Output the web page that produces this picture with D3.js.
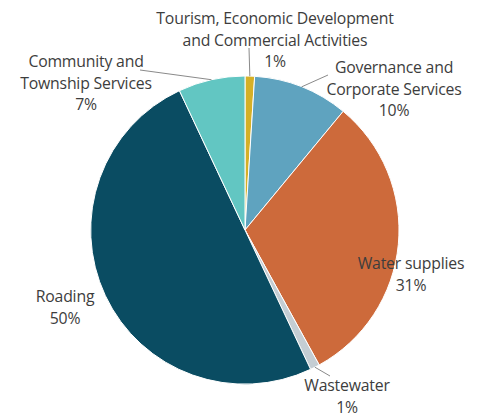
<!DOCTYPE html>
<html>
<head>
<meta charset="utf-8">
<script src="https://cdn.jsdelivr.net/npm/d3@7"></script>
<style>
  body { margin: 0; background: #fff; }
  text { font-family: "Open Sans", sans-serif; font-size: 15.8px; fill: #3d3d3d; letter-spacing: -0.2px; }
</style>
</head>
<body>
<svg id="chart" width="481" height="419"></svg>
<script>
// slices, clockwise from 12 o'clock
const categories = [
    "Tourism, Economic Development and Commercial Activities",
    "Governance and Corporate Services",
    "Water supplies",
    "Wastewater",
    "Roading",
    "Community and Township Services"
];
const shares = [1, 10, 31, 1, 50, 7];
const colours = ["#d6b027", "#5fa3bf", "#cd6a3b", "#c4cdd3", "#0a4c62", "#62c6c2"];
// label text lines as printed on the chart
const labelLines = [
    ["Tourism, Economic Development", "and Commercial Activities", "1%"],
    ["Governance and", "Corporate Services", "10%"],
    ["Water supplies", "31%"],
    ["Wastewater", "1%"],
    ["Roading", "50%"],
    ["Community and", "Township Services", "7%"]
];

const svg = d3.select("#chart");
const cx = 245, cy = 230, r = 154;

// where each label block sits (centre x, first baseline y) and where its leader ends
const labelPos = [
    { x: 275, y: 24, lead: [249, 48] },
    { x: 394, y: 73, lead: [328, 75] },
    { x: 411, y: 269, lead: null },
    { x: 347, y: 391, lead: [330, 376] },
    { x: 65, y: 302, lead: null },
    { x: 86, y: 67, lead: [140, 70] }
];
const lineH = 21.5;

const pie = d3.pie().sort(null).value(d => d);
const arcs = pie(shares);
const arc = d3.arc().innerRadius(0).outerRadius(r);

const g = svg.append("g").attr("transform", `translate(${cx},${cy})`);
g.selectAll("path")
    .data(arcs)
    .join("path")
    .attr("d", arc)
    .attr("fill", (d, i) => colours[i])
    .attr("stroke", "#fff")
    .attr("stroke-width", 1);

// leader lines from the rim at slice middle
arcs.forEach((d, i) => {
    const p = labelPos[i];
    if (!p.lead) return;
    const a = (d.startAngle + d.endAngle) / 2;
    svg.append("line")
        .attr("x1", cx + r * Math.sin(a))
        .attr("y1", cy - r * Math.cos(a))
        .attr("x2", p.lead[0])
        .attr("y2", p.lead[1])
        .style("stroke", "#8a8a8a")
        .attr("stroke-width", 1);
});

labelLines.forEach((lines, i) => {
    const p = labelPos[i];
    const t = svg.append("text")
        .attr("x", p.x)
        .attr("y", p.y)
        .style("text-anchor", "middle");
    lines.forEach((s, j) => {
        t.append("tspan")
            .attr("x", p.x)
            .attr("y", p.y + j * lineH)
            .text(s);
    });
});
</script>
</body>
</html>
